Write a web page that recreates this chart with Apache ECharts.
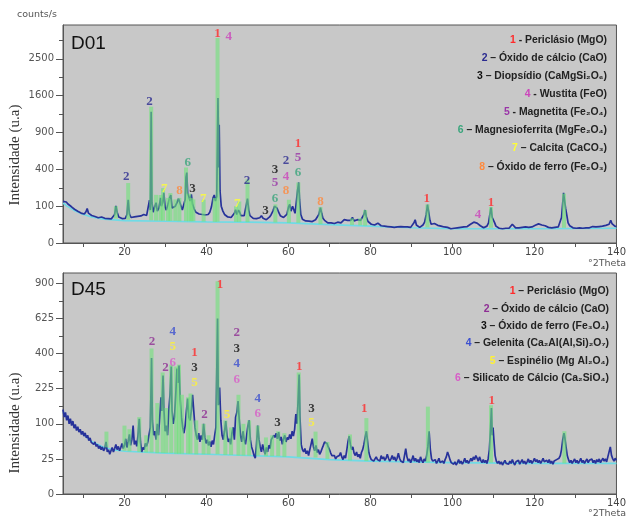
<!DOCTYPE html>
<html><head><meta charset="utf-8">
<script src="https://cdn.jsdelivr.net/npm/echarts@6/dist/echarts.min.js"></script>
<style>html,body{margin:0;padding:0;background:#fff}#c{width:629px;height:517px}</style>
</head><body><div id="c"></div><script>
// ---------- tick values ----------
const X_TICKS = [10,20,30,40,50,60,70,80,90,100,110,120,130,140];
const X_LABELS = [20,40,60,80,100,120,140];
const D01_Y_LABELS = [0,100,400,900,1600,2500];
const D01_Y_MINOR = [25,225,625,1225,2025,3025];
const D01_Y_MAX = 3505;
const D45_Y_LABELS = [0,25,100,225,400,625,900];
const D45_Y_MINOR = [6.25,56.25,156.25,306.25,506.25,756.25];
const D45_Y_MAX = 992;

// ---------- D01 observed pattern [2theta, counts] ----------
const D01_obs = [[5.0,128],[5.4,120],[5.8,124],[6.2,112],[6.6,104],[7.0,98],[7.4,90],[7.8,84],[8.2,80],[8.6,74],[9.0,70],[9.4,66],[9.8,64],[10.2,62],[10.6,72],[10.9,88],[11.2,66],[11.6,58],[12.0,56],[12.4,54],[12.8,52],[13.2,50],[13.6,47],[14.0,46],[14.4,50],[14.8,47],[15.2,45],[15.6,48],[16.0,44],[16.4,46],[16.8,43],[17.2,47],[17.6,60],[17.9,102],[18.2,70],[18.6,50],[19.0,46],[19.4,44],[19.8,47],[20.2,45],[20.6,60],[20.9,138],[21.2,62],[21.6,48],[22.0,46],[22.4,50],[22.8,48],[23.2,52],[23.6,50],[24.0,54],[24.4,52],[24.7,60],[25.0,54],[25.4,56],[25.8,62],[26.1,135],[26.3,80],[26.5,1270],[26.7,120],[27.0,70],[27.4,100],[27.7,120],[28.0,75],[28.4,90],[28.8,150],[29.0,100],[29.3,120],[29.6,185],[29.9,95],[30.2,80],[30.6,110],[31.0,150],[31.3,170],[31.6,90],[32.0,85],[32.4,100],[32.8,120],[33.2,145],[33.5,150],[33.8,100],[34.1,80],[34.5,90],[34.8,140],[35.0,320],[35.2,365],[35.4,180],[35.7,160],[36.0,130],[36.3,175],[36.6,110],[37.0,85],[37.4,70],[37.8,65],[38.2,62],[38.6,68],[39.0,60],[39.3,62],[39.6,58],[40.0,55],[40.4,60],[40.8,70],[41.2,95],[41.6,150],[41.9,170],[42.2,130],[42.5,160],[42.8,1550],[43.0,420],[43.1,1030],[43.3,200],[43.6,100],[44.0,75],[44.4,60],[44.8,55],[45.2,50],[45.6,52],[46.0,48],[46.4,55],[46.8,65],[47.1,82],[47.4,60],[47.8,80],[48.1,70],[48.4,55],[48.8,50],[49.2,55],[49.6,58],[50.0,145],[50.3,80],[50.6,55],[51.0,48],[51.4,45],[51.8,50],[52.2,44],[52.6,42],[53.0,47],[53.4,55],[53.8,45],[54.2,42],[54.6,40],[55.0,44],[55.4,50],[55.8,60],[56.2,75],[56.6,100],[56.9,110],[57.2,90],[57.6,70],[58.0,55],[58.4,50],[58.8,48],[59.2,55],[59.6,60],[60.0,95],[60.3,110],[60.6,75],[61.0,100],[61.3,90],[61.6,65],[61.9,120],[62.2,200],[62.5,270],[62.7,140],[63.0,60],[63.4,42],[63.8,38],[64.2,36],[64.6,34],[65.0,35],[65.4,33],[65.8,34],[66.2,36],[66.6,40],[67.0,45],[67.4,60],[67.8,92],[68.1,65],[68.4,45],[68.8,38],[69.2,32],[69.6,30],[70.0,28],[70.4,30],[70.8,27],[71.2,28],[71.6,30],[72.0,32],[72.4,34],[72.8,30],[73.2,36],[73.6,40],[74.0,35],[74.4,38],[74.8,44],[75.2,38],[75.6,48],[76.0,36],[76.4,32],[76.8,40],[77.2,34],[77.6,38],[78.0,42],[78.4,60],[78.7,80],[79.0,50],[79.4,34],[79.8,29],[80.2,26],[80.6,30],[81.0,24],[81.4,26],[81.8,29],[82.2,24],[82.6,22],[83.0,25],[83.4,21],[83.8,23],[84.2,20],[84.6,22],[85.0,19],[85.4,21],[85.8,18],[86.2,20],[86.6,19],[87.0,17],[87.4,20],[87.8,18],[88.2,19],[88.6,17],[89.0,19],[89.4,21],[89.8,18],[90.2,22],[90.6,30],[90.9,40],[91.2,24],[91.6,20],[92.0,18],[92.4,21],[92.8,24],[93.2,32],[93.6,60],[93.9,108],[94.2,70],[94.5,38],[94.8,26],[95.2,22],[95.6,28],[96.0,34],[96.4,23],[96.8,19],[97.2,21],[97.6,17],[98.0,19],[98.4,16],[98.8,18],[99.2,17],[99.6,15],[100.0,18],[100.4,16],[100.8,19],[101.2,17],[101.6,20],[102.0,18],[102.4,21],[102.8,19],[103.2,22],[103.6,20],[104.0,23],[104.4,26],[104.8,29],[105.2,32],[105.6,33],[106.0,29],[106.4,26],[106.8,22],[107.2,19],[107.6,17],[108.0,19],[108.4,21],[108.8,30],[109.1,58],[109.4,92],[109.7,48],[110.0,54],[110.3,30],[110.6,21],[111.0,18],[111.4,16],[111.8,18],[112.2,15],[112.6,17],[113.0,16],[113.4,18],[113.8,16],[114.2,19],[114.6,26],[115.0,21],[115.4,17],[115.8,15],[116.2,17],[116.6,16],[117.0,18],[117.4,17],[117.8,19],[118.2,16],[118.6,18],[119.0,17],[119.4,19],[119.8,21],[120.2,23],[120.6,25],[121.0,27],[121.4,26],[121.8,24],[122.2,25],[122.6,22],[123.0,20],[123.4,18],[123.8,19],[124.2,17],[124.6,19],[125.0,18],[125.4,20],[125.8,19],[126.2,24],[126.6,48],[126.9,120],[127.1,185],[127.3,140],[127.6,88],[127.9,56],[128.2,30],[128.6,22],[129.0,19],[129.4,17],[129.8,19],[130.2,16],[130.6,18],[131.0,17],[131.4,19],[131.8,16],[132.2,18],[132.6,17],[133.0,19],[133.4,17],[133.8,18],[134.2,20],[134.6,17],[135.0,19],[135.4,18],[135.8,20],[136.2,19],[136.6,21],[137.0,20],[137.4,23],[137.8,21],[138.2,26],[138.6,38],[138.9,28],[139.2,23],[139.6,21],[140.0,20]];
const D01_base = [[5,118],[6,100],[8,75],[10,60],[12,50],[15,42],[20,37],[30,35],[40,33],[50,32],[60,30],[70,25],[80,21],[90,17],[100,15],[120,15],[140,16]];
// green reference sticks [2theta, top counts, base counts]
const D01_bars = [[17.9,100,44],[20.9,265,40],[26.5,1370,38],[27.7,171,37],[28.8,170,37],[29.4,222,37],[30.6,150,36],[31.2,184,36],[32.4,140,36],[33.4,150,35],[35.0,420,35],[35.8,180,35],[36.3,150,35],[36.8,140,35],[39.3,138,34],[42.0,150,33],[42.7,3100,33],[47.2,100,33],[48.0,127,33],[50.0,300,32],[56.8,110,31],[60.1,138,30],[62.4,270,30],[67.8,95,26],[75.5,45,24],[77.5,45,23],[78.7,80,22],[93.9,110,18],[109.4,95,17],[127.2,180,17]];
const D01_labels = [[20.4,326,'2'],[26.1,1473,'2'],[42.7,3240,'1'],[45.4,3150,'4'],[29.7,215,'7'],[33.4,203,'8'],[35.4,482,'6'],[36.6,214,'3'],[39.2,144,'7'],[47.5,113,'7'],[49.9,285,'2'],[54.4,77,'3'],[56.7,402,'3'],[56.7,270,'5'],[56.7,142,'6'],[59.4,497,'2'],[59.4,326,'4'],[59.4,201,'8'],[62.3,734,'1'],[62.3,538,'5'],[62.3,360,'6'],[67.8,127,'8'],[93.7,142,'1'],[106.2,59,'4'],[109.4,123,'1']];
const D01_colors = {'1':'#ff2a2a','2':'#2a2a90','3':'#111111','4':'#cc44bb','5':'#9a35a8','6':'#3aa57c','7':'#ffff33','8':'#ff8a3d'};
const D01_legend = [['1',' - Periclásio (MgO)'],['2',' – Óxido de cálcio (CaO)'],['3',' – Diopsídio (CaMgSi₂O₆)'],['4',' - Wustita (FeO)'],['5',' - Magnetita (Fe₂O₄)'],['6',' – Magnesioferrita (MgFe₂O₄)'],['7',' – Calcita (CaCO₃)'],['8',' – Óxido de ferro (Fe₂O₃)']];

// ---------- D45 observed pattern ----------
const D45_obs = [[5.0,145],[5.3,120],[5.6,135],[5.9,110],[6.2,125],[6.5,100],[6.8,115],[7.1,95],[7.4,108],[7.7,88],[8.0,98],[8.3,82],[8.6,92],[8.9,78],[9.2,85],[9.5,72],[9.8,80],[10.1,68],[10.4,76],[10.7,64],[11.0,70],[11.3,58],[11.6,64],[11.9,54],[12.2,58],[12.5,50],[12.8,55],[13.1,46],[13.4,50],[13.7,42],[14.0,47],[14.3,40],[14.6,45],[14.9,38],[15.2,42],[15.5,55],[15.8,36],[16.1,40],[16.4,32],[16.7,38],[17.0,44],[17.3,36],[17.6,42],[17.9,50],[18.2,40],[18.5,46],[18.8,38],[19.1,44],[19.4,52],[19.7,42],[20.0,48],[20.3,62],[20.6,44],[20.9,56],[21.2,72],[21.5,48],[21.8,60],[22.1,95],[22.4,50],[22.7,58],[23.0,46],[23.3,70],[23.6,115],[23.9,55],[24.2,36],[24.5,44],[24.8,40],[25.1,52],[25.4,46],[25.7,56],[26.0,60],[26.3,90],[26.6,375],[26.8,110],[27.1,70],[27.4,80],[27.7,60],[28.0,100],[28.3,70],[28.6,120],[28.9,190],[29.1,140],[29.4,285],[29.6,150],[29.9,80],[30.2,95],[30.5,70],[30.8,140],[31.1,200],[31.4,330],[31.6,140],[31.9,100],[32.2,120],[32.5,200],[32.8,320],[33.0,250],[33.3,335],[33.6,180],[33.9,120],[34.2,90],[34.5,75],[34.8,95],[35.1,140],[35.4,185],[35.7,120],[36.0,110],[36.3,140],[36.6,200],[36.9,195],[37.2,90],[37.5,70],[37.8,60],[38.1,75],[38.4,55],[38.7,70],[39.0,60],[39.3,100],[39.6,65],[39.9,52],[40.2,60],[40.5,48],[40.8,56],[41.1,45],[41.4,58],[41.7,50],[42.0,70],[42.3,90],[42.7,625],[42.9,160],[43.2,230],[43.5,110],[43.8,70],[44.1,60],[44.4,80],[44.7,108],[45.0,70],[45.3,55],[45.6,62],[45.9,50],[46.2,75],[46.5,90],[46.8,60],[47.1,120],[47.4,135],[47.7,175],[48.0,110],[48.3,70],[48.6,55],[48.9,80],[49.2,60],[49.5,50],[49.8,70],[50.1,95],[50.4,110],[50.7,60],[51.0,45],[51.3,38],[51.6,30],[51.9,26],[52.2,50],[52.5,95],[52.8,60],[53.1,45],[53.4,36],[53.7,50],[54.0,40],[54.3,32],[54.6,44],[54.9,36],[55.2,48],[55.5,42],[55.8,60],[56.1,56],[56.4,70],[56.7,65],[57.0,75],[57.3,62],[57.6,78],[57.9,58],[58.2,66],[58.5,50],[58.8,62],[59.1,70],[59.4,55],[59.7,65],[60.0,60],[60.3,72],[60.6,62],[60.9,80],[61.2,68],[61.5,85],[61.8,130],[62.1,100],[62.4,200],[62.6,290],[62.8,120],[63.1,50],[63.4,40],[63.7,36],[64.0,42],[64.3,33],[64.6,38],[64.9,30],[65.2,40],[65.5,50],[65.8,62],[66.1,45],[66.4,38],[66.7,48],[67.0,35],[67.3,40],[67.6,32],[67.9,36],[68.2,42],[68.5,48],[68.8,55],[69.1,58],[69.4,52],[69.7,45],[70.0,40],[70.3,34],[70.6,30],[70.9,27],[71.2,30],[71.5,25],[71.8,28],[72.1,26],[72.4,30],[72.7,35],[73.0,28],[73.3,24],[73.6,30],[73.9,26],[74.2,38],[74.5,55],[74.8,68],[75.1,50],[75.4,40],[75.7,45],[76.0,34],[76.3,30],[76.6,36],[76.9,28],[77.2,32],[77.5,26],[77.8,35],[78.1,40],[78.4,50],[78.7,65],[79.0,80],[79.3,55],[79.6,35],[79.9,28],[80.2,24],[80.5,26],[80.8,22],[81.1,25],[81.4,28],[81.7,24],[82.0,26],[82.3,22],[82.6,30],[82.9,25],[83.2,28],[83.5,23],[83.8,26],[84.1,32],[84.4,26],[84.7,22],[85.0,25],[85.3,30],[85.6,24],[85.9,28],[86.2,22],[86.5,26],[86.8,34],[87.1,26],[87.4,22],[87.7,24],[88.0,20],[88.3,30],[88.6,42],[88.9,28],[89.2,22],[89.5,25],[89.8,20],[90.1,24],[90.4,30],[90.7,22],[91.0,26],[91.3,21],[91.6,24],[91.9,20],[92.2,28],[92.5,23],[92.8,20],[93.1,25],[93.4,22],[93.7,30],[94.0,45],[94.3,80],[94.6,40],[94.9,25],[95.2,22],[95.5,20],[95.8,24],[96.1,19],[96.4,22],[96.7,26],[97.0,20],[97.3,18],[97.6,22],[97.9,19],[98.2,24],[98.5,28],[98.8,36],[99.1,30],[99.4,24],[99.7,20],[100.0,22],[100.3,18],[100.6,21],[100.9,17],[101.2,20],[101.5,24],[101.8,19],[102.1,22],[102.4,18],[102.7,21],[103.0,26],[103.3,20],[103.6,23],[103.9,19],[104.2,22],[104.5,26],[104.8,22],[105.1,28],[105.4,24],[105.7,30],[106.0,26],[106.3,22],[106.6,28],[106.9,23],[107.2,20],[107.5,24],[107.8,20],[108.1,23],[108.4,19],[108.7,25],[109.0,40],[109.3,90],[109.5,150],[109.7,70],[109.9,90],[110.1,60],[110.4,30],[110.7,22],[111.0,19],[111.3,22],[111.6,18],[111.9,21],[112.2,17],[112.5,20],[112.8,23],[113.1,19],[113.4,21],[113.7,18],[114.0,22],[114.3,19],[114.6,24],[114.9,20],[115.2,17],[115.5,21],[115.8,19],[116.1,23],[116.4,18],[116.7,21],[117.0,24],[117.3,19],[117.6,22],[117.9,18],[118.2,21],[118.5,25],[118.8,20],[119.1,23],[119.4,19],[119.7,22],[120.0,26],[120.3,21],[120.6,24],[120.9,20],[121.2,23],[121.5,19],[121.8,22],[122.1,26],[122.4,21],[122.7,19],[123.0,23],[123.3,20],[123.6,24],[123.9,19],[124.2,22],[124.5,18],[124.8,22],[125.1,20],[125.4,24],[125.7,22],[126.0,26],[126.3,30],[126.6,40],[126.9,60],[127.2,75],[127.4,65],[127.7,45],[128.0,30],[128.3,24],[128.6,20],[128.9,23],[129.2,19],[129.5,22],[129.8,25],[130.1,20],[130.4,23],[130.7,19],[131.0,22],[131.3,26],[131.6,20],[131.9,23],[132.2,19],[132.5,22],[132.8,25],[133.1,20],[133.4,23],[133.7,21],[134.0,25],[134.3,20],[134.6,23],[134.9,19],[135.2,24],[135.5,21],[135.8,25],[136.1,20],[136.4,23],[136.7,26],[137.0,22],[137.3,25],[137.6,21],[137.9,28],[138.2,36],[138.5,45],[138.8,30],[139.1,25],[139.4,22],[139.7,26],[140.0,23]];
const D45_base = [[5,138],[6,118],[8,92],[10,72],[12,56],[15,44],[18,39],[20,37],[30,34],[40,32],[50,30],[60,28],[70,24],[80,22],[100,20],[120,19],[140,19]];
const D45_bars = [[15.6,79,44],[20.0,95,38],[21.2,85,37],[23.6,120,36],[25.3,70,35],[26.6,430,35],[28.0,168,34],[29.3,300,34],[30.2,150,34],[31.4,340,34],[32.6,330,33],[33.3,340,33],[34.0,200,33],[35.5,190,33],[36.1,205,33],[37.5,110,32],[39.3,100,32],[40.5,70,32],[42.7,920,32],[44.6,110,31],[46.0,90,31],[47.8,200,30],[49.0,100,30],[50.4,110,30],[52.5,95,30],[54.5,65,29],[56.0,70,29],[57.5,80,29],[59.0,75,28],[62.5,300,28],[66.6,79,27],[69.5,55,25],[75.0,72,23],[79.0,117,22],[94.0,155,20],[109.4,160,20],[127.3,80,19]];
const D45_labels = [[26.7,470,'2'],[31.8,533,'4'],[31.8,444,'5'],[31.8,349,'6'],[30.0,325,'2'],[37.1,404,'1'],[37.1,325,'3'],[37.1,251,'5'],[39.5,127,'2'],[43.3,892,'1'],[45.0,127,'5'],[47.4,527,'2'],[47.4,430,'3'],[47.4,343,'4'],[47.4,267,'6'],[52.5,186,'4'],[52.5,132,'6'],[57.3,102,'3'],[62.6,332,'1'],[65.6,147,'3'],[65.6,102,'5'],[78.5,147,'1'],[109.6,177,'1']];
const D45_colors = {'1':'#ff2a2a','2':'#8e2e94','3':'#111111','4':'#3b4fd0','5':'#fff233','6':'#d85cc8'};
const D45_legend = [['1',' – Periclásio (MgO)'],['2',' – Óxido de cálcio (CaO)'],['3',' – Óxido de ferro (Fe₃O₄)'],['4',' – Gelenita (Ca₂Al(Al,Si)₂O₇)'],['5',' – Espinélio (Mg Al₂O₄)'],['6',' – Silicato de Cálcio (Ca₂SiO₄)']];

// ---------- build ----------
const S = Math.sqrt;
const sq = arr => arr.map(p => [p[0], S(p[1])]);
const grids = [
  {left:63, top:25, width:556, height:218},
  {left:63, top:273, width:556, height:221}
];
const gridStyle = {show:true, backgroundColor:'#c8c8c8', borderColor:'#555', borderWidth:1};

function xAxis(i){
  return {type:'value', gridIndex:i, min:5, max:140,
    axisLine:{lineStyle:{color:'#555'}},
    axisTick:{customValues:X_TICKS, length:4, lineStyle:{color:'#555'}},
    axisLabel:{customValues:X_LABELS, color:'#444', fontSize:10, fontFamily:'DejaVu Sans', margin:4},
    splitLine:{show:false}};
}
function yMajor(i, labels, max){
  return {type:'value', gridIndex:i, min:0, max:S(max),
    axisLine:{show:true, lineStyle:{color:'#555'}},
    axisTick:{show:true, customValues:labels.map(S), length:7, lineStyle:{color:'#555'}},
    axisLabel:{customValues:labels.map(S), color:'#555', fontSize:10, fontFamily:'DejaVu Sans', margin:9,
      formatter: v => String(Math.round(v*v))},
    splitLine:{show:false}};
}
function yMinor(i, minor, max){
  return {type:'value', gridIndex:i, min:0, max:S(max), position:'left',
    axisLine:{show:false},
    axisTick:{show:true, customValues:minor.map(S), length:4, lineStyle:{color:'#555'}},
    axisLabel:{show:false}, splitLine:{show:false}};
}

function panelSeries(i, obs, base, bars, labels, colors){
  const yi = i*2;
  return [
    {type:'line', xAxisIndex:i, yAxisIndex:yi, data:sq(base), symbol:'none', silent:true,
      lineStyle:{color:'#6fdbe6', width:1.6}, z:2},
    {type:'line', xAxisIndex:i, yAxisIndex:yi, data:sq(obs), symbol:'none', silent:true,
      lineStyle:{color:'#27329a', width:1.7}, z:3},
    {type:'custom', xAxisIndex:i, yAxisIndex:yi, z:4, silent:true,
      data: bars.map(b => [b[0], S(b[1]), S(b[2])]),
      renderItem: (params, api) => {
        const pt = api.coord([api.value(0), api.value(1)]);
        const pb = api.coord([api.value(0), api.value(2)]);
        return {type:'rect', shape:{x:pt[0]-2, y:pt[1], width:4, height:pb[1]-pt[1]},
          style:{fill:'rgba(112,226,122,0.6)'}};
      }},
    {type:'scatter', xAxisIndex:i, yAxisIndex:yi, z:6, symbolSize:0, silent:true,
      data: labels.map(l => ({value:[l[0], S(l[1])], name:l[2],
        label:{color:colors[l[2]]}})),
      label:{show:true, position:'inside', formatter: p => p.name,
        fontFamily:'Liberation Serif', fontWeight:'bold', fontSize:13}}
  ];
}

const graphics = [];
function txt(x, y, text, font, fill, align, rot){
  graphics.push({type:'text', x:x, y:y, rotation:rot||0, z:10,
    style:{text:text, font:font, fill:fill, align:align||'left', verticalAlign:'middle'}});
}
txt(17, 15, 'counts/s', '9.5px "DejaVu Sans"', '#555');
txt(71, 44, 'D01', '19px "Liberation Sans"', '#111');
txt(71, 290, 'D45', '19px "Liberation Sans"', '#111');
txt(626, 264, '°2Theta', '9.5px "DejaVu Sans"', '#555', 'right');
txt(626, 514, '°2Theta', '9.5px "DejaVu Sans"', '#555', 'right');
txt(15, 155, 'Intensidade (u.a)', '15px "Liberation Serif"', '#333', 'center', Math.PI/2);
txt(15, 423, 'Intensidade (u.a)', '15px "Liberation Serif"', '#333', 'center', Math.PI/2);

function legend(items, colors, right, y0, dy){
  items.forEach((it, k) => {
    graphics.push({type:'text', x:right, y:y0 + k*dy, z:10,
      style:{text:'{n|' + it[0] + '}' + it[1], font:'bold 10.4px "Liberation Sans"', fill:'#222',
        align:'right', verticalAlign:'middle',
        rich:{n:{fill:colors[it[0]], fontSize:10.4, fontWeight:'bold', fontFamily:'Liberation Sans'}}}});
  });
}
legend(D01_legend, D01_colors, 607, 40, 18.1);
legend(D45_legend, D45_colors, 609, 291.5, 17.3);

const chart = echarts.init(document.getElementById('c'));
chart.setOption({
  animation:false,
  backgroundColor:'#ffffff',
  grid: grids.map(g => Object.assign({}, g, gridStyle)),
  xAxis:[xAxis(0), xAxis(1)],
  yAxis:[yMajor(0, D01_Y_LABELS, D01_Y_MAX), yMinor(0, D01_Y_MINOR, D01_Y_MAX),
         yMajor(1, D45_Y_LABELS, D45_Y_MAX), yMinor(1, D45_Y_MINOR, D45_Y_MAX)],
  series:[...panelSeries(0, D01_obs, D01_base, D01_bars, D01_labels, D01_colors),
          ...panelSeries(1, D45_obs, D45_base, D45_bars, D45_labels, D45_colors)],
  graphic: graphics
});
</script></body></html>
